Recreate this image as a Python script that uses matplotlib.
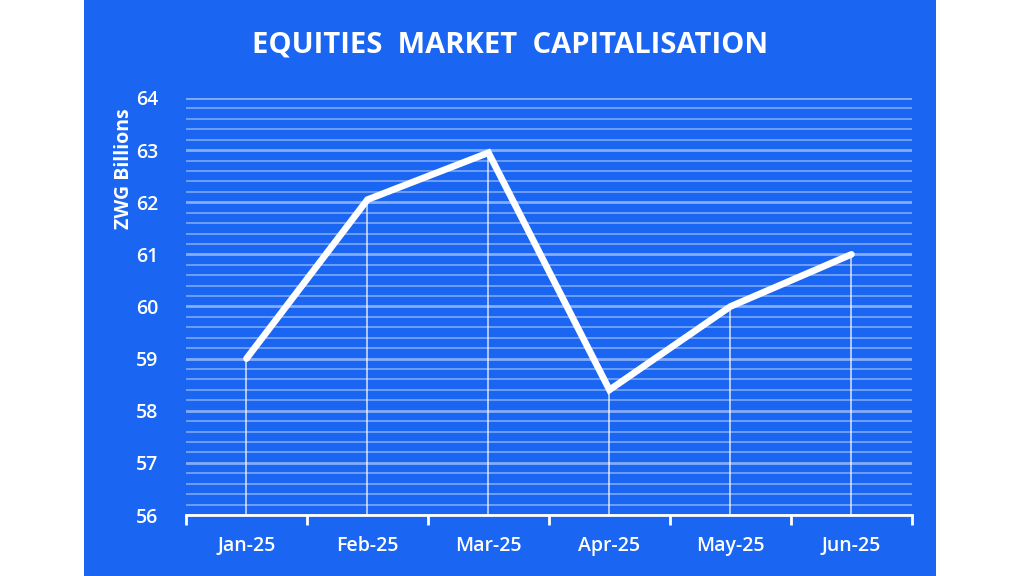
import matplotlib
matplotlib.use("Agg")
import matplotlib.pyplot as plt
from matplotlib.patches import Rectangle
from matplotlib.ticker import MultipleLocator

months = ["Jan-25", "Feb-25", "Mar-25", "Apr-25", "May-25", "Jun-25"]
market_cap = [59.0, 62.05, 62.95, 58.4, 60.0, 61.0]

BLUE = "#1a66f2"
GRID = "#84adf8"

plt.rcParams["font.family"] = ["Open Sans", "DejaVu Sans"]

fig = plt.figure(figsize=(10.24, 5.76), dpi=100)
fig.patch.set_facecolor("white")
fig.patches.append(Rectangle((0.082, 0), 0.832, 1, transform=fig.transFigure,
                             facecolor=BLUE, edgecolor="none", zorder=-10))

ax = fig.add_axes([0.1816, 0.1059, 0.709, 0.724])
ax.set_facecolor("none")
ax.set_zorder(5)

x = list(range(len(months)))

# grid: major per 1, minor per 0.2
ax.set_ylim(56, 64)
ax.set_xlim(-0.5, len(months) - 0.5)
ax.yaxis.set_major_locator(MultipleLocator(1))
ax.yaxis.set_minor_locator(MultipleLocator(0.2))
ax.grid(True, axis="y", which="major", color=GRID, lw=2.0, zorder=1)
ax.grid(True, axis="y", which="minor", color=GRID, lw=1.3, alpha=0.85, zorder=1)

# drop lines
ax.vlines(x, 56, market_cap, color="white", lw=1.2, alpha=0.75, zorder=2)
ax.plot(x, market_cap, color="white", lw=4.8, solid_joinstyle="miter",
        solid_capstyle="round", zorder=3)

for s in ["top", "right", "left"]:
    ax.spines[s].set_visible(False)
ax.spines["bottom"].set_color("white")
ax.spines["bottom"].set_linewidth(2)

ax.set_xticks(x)
ax.set_xticklabels(months)
ax.set_xticks([i - 0.5 for i in range(len(months) + 1)], minor=True)
ax.tick_params(axis="x", which="major", length=0, pad=15, labelsize=14,
               labelcolor="white")
ax.tick_params(axis="x", which="minor", length=7, width=2, color="white")
ax.tick_params(axis="y", which="both", length=0, pad=20, labelsize=14,
               labelcolor="white")
for lbl in ax.get_xticklabels() + ax.get_yticklabels():
    lbl.set_fontweight("semibold")

fig.text(0.121, 0.708, "ZWG Billions", rotation=90, ha="center", va="center",
         color="white", fontsize=14, fontweight="bold")
fig.text(0.498, 0.922, "EQUITIES  MARKET  CAPITALISATION", ha="center", va="center",
         color="white", fontsize=21, fontweight="bold")

fig.savefig("out.png", dpi=100, facecolor=fig.get_facecolor())
